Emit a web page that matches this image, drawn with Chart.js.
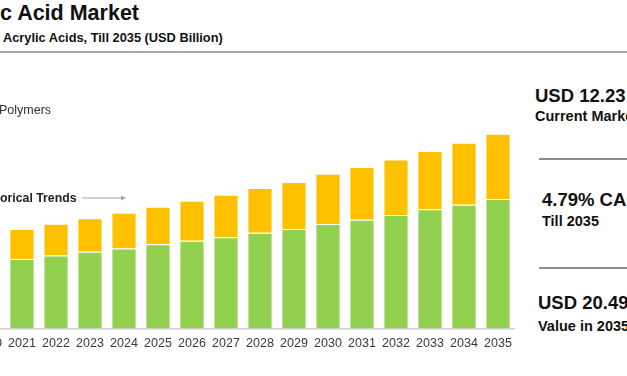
<!DOCTYPE html>
<html>
<head>
<meta charset="utf-8">
<script src="https://cdn.jsdelivr.net/npm/chart.js@4.4.1/dist/chart.umd.min.js"></script>
<style>
    html, body { margin: 0; padding: 0; }
    body {
        width: 627px; height: 376px; overflow: hidden; position: relative;
        background: #fff; font-family: "Liberation Sans", Arial, sans-serif; color: #111;
    }
    .abs { position: absolute; white-space: nowrap; }
    #title { left: 0; top: 1px; font-size: 21.5px; font-weight: bold; line-height: 24px; }
    #subtitle { left: 3px; top: 30px; font-size: 12.8px; font-weight: bold; line-height: 16px; }
    #rule { left: 0; top: 51px; width: 627px; height: 2px; background: #a6a6a6; }
    #legend { left: -1px; top: 102px; font-size: 12.5px; line-height: 16px; color: #333; }
    #hist { left: 0; top: 190px; font-size: 12.3px; font-weight: bold; line-height: 16px; color: #222; }
    #arrow { position: absolute; left: 82px; top: 194px; }
    .big { font-size: 18.5px; font-weight: bold; line-height: 20px; }
    .small { font-size: 14.5px; font-weight: bold; line-height: 16px; }
    .sep { position: absolute; left: 539px; width: 88px; height: 2px; background: #8c8c8c; }
    #chartBox { position: absolute; left: -29px; top: 0; width: 544px; height: 376px; }
</style>
</head>
<body>
<div id="title" class="abs">c Acid Market</div>
<div id="subtitle" class="abs">Acrylic Acids, Till 2035 (USD Billion)</div>
<div id="rule" class="abs"></div>

<div id="chartBox"><canvas id="marketChart"></canvas></div>

<div id="legend" class="abs">Polymers</div>
<div id="hist" class="abs">orical Trends</div>
<svg id="arrow" width="46" height="8">
    <line x1="0" y1="4" x2="40" y2="4" stroke="#a6a6a6" stroke-width="1"/>
    <path d="M39 1.5 L44 4 L39 6.5 Z" fill="#a6a6a6"/>
</svg>

<div class="abs big" style="left:535px; top:86px;">USD 12.23</div>
<div class="abs small" style="left:535px; top:108px;">Current Market Size</div>
<div class="sep" style="top:158px;"></div>
<div class="abs big" style="left:542px; top:190px;">4.79% CAGR</div>
<div class="abs small" style="left:542px; top:213px;">Till 2035</div>
<div class="sep" style="top:267px;"></div>
<div class="abs big" style="left:538px; top:293px;">USD 20.49</div>
<div class="abs small" style="left:538px; top:318px;">Value in 2035</div>

<script>
// Years on the x axis
const years = ['2020', '2021', '2022', '2023', '2024', '2025', '2026', '2027',
               '2028', '2029', '2030', '2031', '2032', '2033', '2034', '2035'];

// Bottom segment (green), USD Billion
const polymersValues = [7.01, 7.32, 7.67, 8.06, 8.41, 8.86, 9.22, 9.59,
                        10.06, 10.48, 11.00, 11.45, 11.95, 12.54, 13.03, 13.63];

// Top segment (yellow), USD Billion
const otherValues = [3.05, 3.16, 3.36, 3.53, 3.78, 3.96, 4.23, 4.49,
                     4.72, 4.95, 5.29, 5.54, 5.84, 6.13, 6.51, 6.86];

const yMax = 25;

function initChart() {
    const ctx = document.getElementById('marketChart').getContext('2d');
    new Chart(ctx, {
        type: 'bar',
        data: {
            labels: years,
            datasets: [{
                label: 'Polymers',
                data: polymersValues,
                backgroundColor: '#92D050',
                borderColor: 'rgba(255,255,255,0.55)',
                borderWidth: 1,
                barPercentage: 0.74,
                categoryPercentage: 1
            }, {
                label: 'Others',
                data: otherValues,
                backgroundColor: '#FFC000',
                borderColor: 'rgba(255,255,255,0.55)',
                borderWidth: 1,
                barPercentage: 0.74,
                categoryPercentage: 1
            }]
        },
        options: {
            responsive: true,
            maintainAspectRatio: false,
            animation: false,
            layout: { padding: { top: 91, bottom: 24.6, left: 0, right: 0 } },
            plugins: {
                legend: { display: false },
                tooltip: { enabled: false }
            },
            scales: {
                x: {
                    stacked: true,
                    // grid hidden, but tickLength still spaces the labels
                    grid: { display: false, drawTicks: true, tickLength: 8 },
                    border: { display: true, color: '#d0d0d0', width: 1.5 },
                    ticks: {
                        color: '#3a3a3a',
                        padding: 0,
                        maxRotation: 0,
                        autoSkip: false,
                        font: { family: 'Liberation Sans', size: 12.5 }
                    }
                },
                y: {
                    stacked: true,
                    display: false,
                    min: 0,
                    max: yMax
                }
            }
        }
    });
}

initChart();
</script>
</body>
</html>
